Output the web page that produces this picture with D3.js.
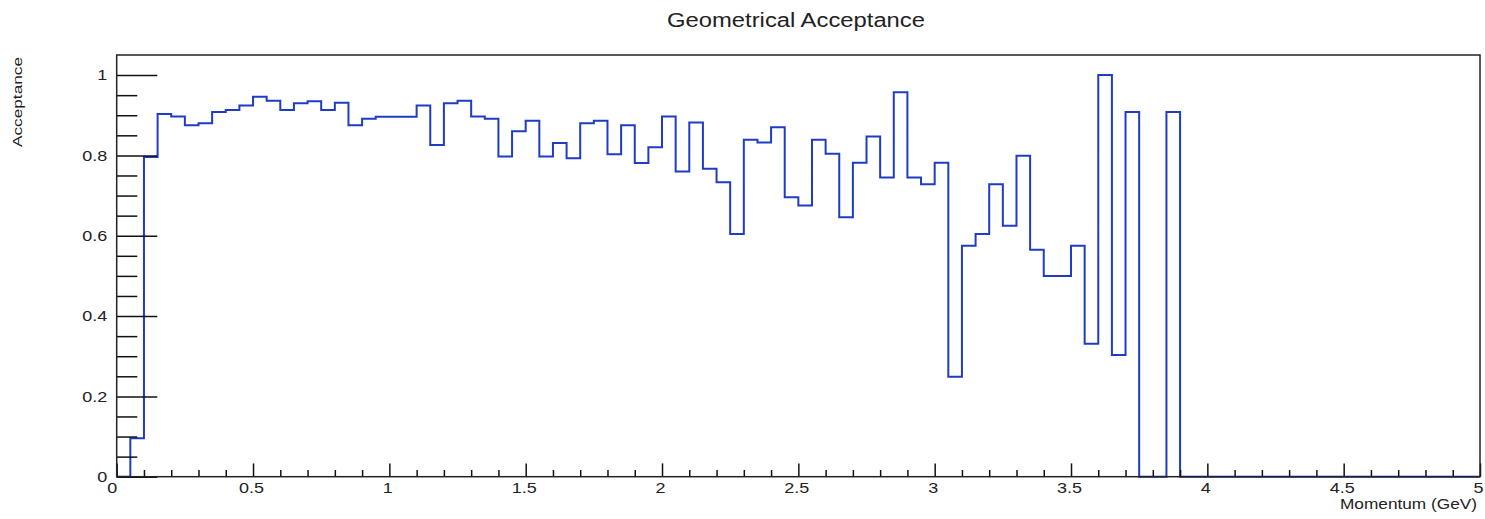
<!DOCTYPE html>
<html><head><meta charset="utf-8">
<script src="https://cdn.jsdelivr.net/npm/d3@7"></script>
<style>html,body{margin:0;padding:0;background:#fff}svg{display:block}</style>
</head><body>
<svg id="chart" width="1485" height="519"></svg>
<script>
const chartTitle = "Geometrical Acceptance";
const xTitle = "Momentum (GeV)";
const yTitle = "Acceptance";
const xDomain = [0, 5];
const yDomain = [0, 1.05];
const binWidth = 0.05;
// acceptance per 0.05 GeV momentum bin (100 bins, 0 - 5 GeV)
const acceptance = [
  0.000, 0.096, 0.796, 0.903, 0.897, 0.875, 0.880, 0.908, 0.913, 0.924,
  0.946, 0.936, 0.913, 0.930, 0.935, 0.913, 0.931, 0.875, 0.891, 0.896,
  0.896, 0.896, 0.924, 0.826, 0.930, 0.936, 0.897, 0.891, 0.797, 0.860,
  0.886, 0.797, 0.831, 0.793, 0.880, 0.886, 0.803, 0.875, 0.781, 0.820,
  0.897, 0.760, 0.882, 0.767, 0.733, 0.604, 0.839, 0.832, 0.870, 0.696,
  0.675, 0.839, 0.804, 0.646, 0.782, 0.847, 0.745, 0.957, 0.745, 0.728,
  0.782, 0.249, 0.575, 0.604, 0.728, 0.625, 0.799, 0.565, 0.500, 0.500,
  0.575, 0.331, 1.000, 0.303, 0.908, 0.000, 0.000, 0.908, 0.000, 0.000,
  0.000, 0.000, 0.000, 0.000, 0.000, 0.000, 0.000, 0.000, 0.000, 0.000,
  0.000, 0.000, 0.000, 0.000, 0.000, 0.000, 0.000, 0.000, 0.000, 0.000
];
const xMajorTicks = [0, 0.5, 1, 1.5, 2, 2.5, 3, 3.5, 4, 4.5, 5];
const xTickLabels = ["0", "0.5", "1", "1.5", "2", "2.5", "3", "3.5", "4", "4.5", "5"];
const yMajorTicks = [0, 0.2, 0.4, 0.6, 0.8, 1];
const yTickLabels = ["0", "0.2", "0.4", "0.6", "0.8", "1"];

const FONT = "'Liberation Sans', Arial, Helvetica, sans-serif";
const frame = {left: 116.7, right: 1480, top: 55, bottom: 476.7};
const svg = d3.select("#chart");
svg.append("rect").attr("width", 1485).attr("height", 519).attr("fill", "#fff");

const x = d3.scaleLinear().domain(xDomain).range([frame.left, frame.right]);
const y = d3.scaleLinear().domain(yDomain).range([frame.bottom, frame.top]);

// histogram outline
const pts = acceptance.map((v, i) => [i * binWidth, v]);
pts.push([xDomain[1], acceptance[acceptance.length - 1]]);
const line = d3.line().x(d => x(d[0])).y(d => y(d[1])).curve(d3.curveStepAfter);
svg.append("path").datum(pts).attr("d", line)
  .attr("fill", "none").attr("stroke", "#1f3cc4").attr("stroke-width", 2);

// minor ticks
const xMinor = x.ticks(50).filter(t => !xMajorTicks.some(m => Math.abs(m - t) < 1e-9));
const yMinor = y.ticks(21).filter(t => t < 1.04 && !yMajorTicks.some(m => Math.abs(m - t) < 1e-9));

const gxMinor = svg.append("g").attr("transform", `translate(0,${frame.bottom})`)
  .call(d3.axisBottom(x).tickValues(xMinor).tickSize(-6.7).tickSizeOuter(0).tickFormat(""));
const gyMinor = svg.append("g").attr("transform", `translate(${frame.left},0)`)
  .call(d3.axisLeft(y).tickValues(yMinor).tickSize(-20.6).tickSizeOuter(0).tickFormat(""));

const gx = svg.append("g").attr("transform", `translate(0,${frame.bottom})`)
  .call(d3.axisBottom(x).tickValues(xMajorTicks).tickSize(-13.3).tickSizeOuter(0).tickPadding(5.5)
    .tickFormat((d, i) => xTickLabels[i]));
const gy = svg.append("g").attr("transform", `translate(${frame.left},0)`)
  .call(d3.axisLeft(y).tickValues(yMajorTicks).tickSize(-40.6).tickSizeOuter(0).tickPadding(7.8)
    .tickFormat((d, i) => yTickLabels[i]));

[gxMinor, gyMinor, gx, gy].forEach(g => {
  g.select(".domain").remove();
  g.selectAll(".tick line").attr("stroke", "#111").attr("stroke-width", 1.5);
  g.selectAll("text").attr("font-family", FONT).attr("font-size", 15).attr("fill", "#222");
});
gx.selectAll(".tick text").attr("transform", (d) => `translate(${d === 0 ? -5 : -2},0) scale(1.2,1)`);
gy.selectAll(".tick text").attr("transform", "scale(1.2,1)");

// frame
svg.append("rect")
  .attr("x", frame.left).attr("y", frame.top)
  .attr("width", frame.right - frame.left).attr("height", frame.bottom - frame.top)
  .attr("fill", "none").attr("stroke", "#222").attr("stroke-width", 1.5);

// titles
svg.append("text").text(chartTitle)
  .attr("x", 796).attr("y", 27).attr("text-anchor", "middle")
  .attr("font-family", FONT).attr("font-size", 20).attr("fill", "#222")
  .attr("textLength", 258).attr("lengthAdjust", "spacingAndGlyphs");
svg.append("text").text(xTitle)
  .attr("x", 1340).attr("y", 508.5).attr("text-anchor", "start")
  .attr("font-family", FONT).attr("font-size", 14).attr("fill", "#222")
  .attr("textLength", 137).attr("lengthAdjust", "spacingAndGlyphs");
svg.append("text").text(yTitle)
  .attr("transform", "translate(22,147) rotate(-90)").attr("text-anchor", "start")
  .attr("font-family", FONT).attr("font-size", 13).attr("fill", "#222")
  .attr("textLength", 90).attr("lengthAdjust", "spacingAndGlyphs");
</script>
</body></html>
